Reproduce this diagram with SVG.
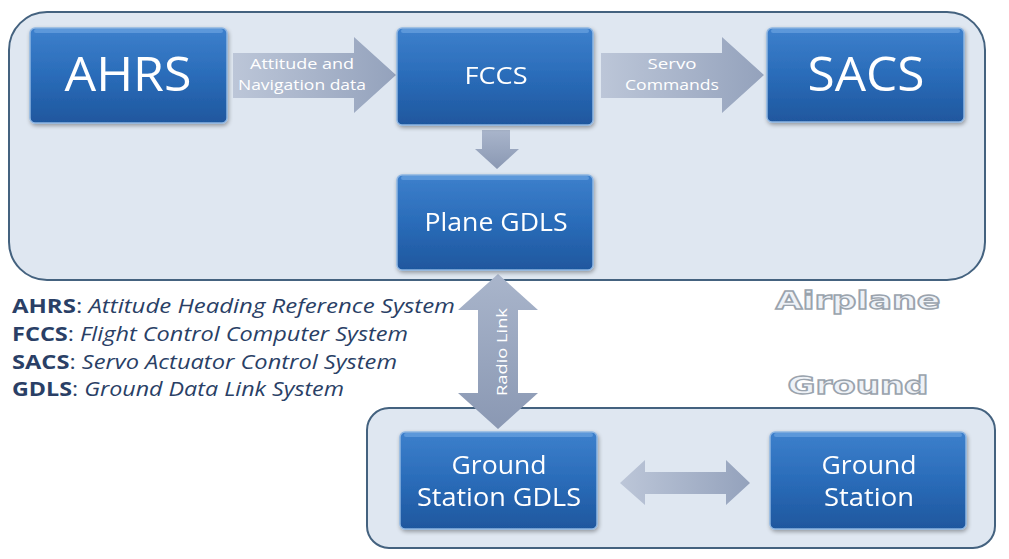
<svg xmlns="http://www.w3.org/2000/svg" width="1009" height="559" viewBox="0 0 1009 559">
<defs>
<linearGradient id="nodeG" x1="0" y1="0" x2="0" y2="1">
<stop offset="0" stop-color="#3d80cc"/>
<stop offset="0.5" stop-color="#2a6cb9"/>
<stop offset="1" stop-color="#1f579e"/>
</linearGradient>
<linearGradient id="arrH" x1="0" y1="0" x2="1" y2="0">
<stop offset="0" stop-color="#bcc6d8"/>
<stop offset="1" stop-color="#94a2bc"/>
</linearGradient>
<linearGradient id="arrV" x1="0" y1="0" x2="0" y2="1">
<stop offset="0" stop-color="#a9b5cb"/>
<stop offset="1" stop-color="#8a98b3"/>
</linearGradient>
<filter id="sh" x="-10%" y="-10%" width="120%" height="130%">
<feGaussianBlur in="SourceAlpha" stdDeviation="2"/>
<feOffset dx="1" dy="2"/>
<feComponentTransfer><feFuncA type="linear" slope="0.35"/></feComponentTransfer>
<feMerge><feMergeNode/><feMergeNode in="SourceGraphic"/></feMerge>
</filter>
</defs>
<style>
.cont{fill:#dfe7f1;stroke:#44627f;stroke-width:2}
.node{fill:url(#nodeG);stroke:#8fb6e2;stroke-width:1.5}
.hl{fill:#6aa2e0;opacity:0.7}
.nt{font-family:"Open Sans","Liberation Sans",sans-serif;fill:#ffffff;text-anchor:middle}
.at{font-family:"Open Sans","Liberation Sans",sans-serif;fill:#ffffff;text-anchor:middle;font-size:15px}
.lg{font-family:"Open Sans","Liberation Sans",sans-serif;font-size:20px;fill:#2a3f66}
.lgb{font-weight:bold}
.lgi{font-style:italic}
.big{font-family:"DejaVu Sans","Liberation Sans",sans-serif;font-weight:bold;font-size:25px;fill:#eef2f7;stroke:#9aa3ad;stroke-width:1.4;text-anchor:middle}
</style>

<g id="airplane">
<rect class="cont" x="9" y="12" width="976" height="268" rx="38"/>
</g>
<g id="ground">
<rect class="cont" x="367" y="408" width="628" height="140" rx="22"/>
</g>

<g id="connectors">
<path d="M233,53 H354 V37 L396,75 L354,113 V98 H233 Z" fill="url(#arrH)"/>
<text class="at" x="302" y="69" textLength="104" lengthAdjust="spacingAndGlyphs">Attitude and</text>
<text class="at" x="302" y="90" textLength="128" lengthAdjust="spacingAndGlyphs">Navigation data</text>
<path d="M601,53 H722 V37 L764,75 L722,113 V98 H601 Z" fill="url(#arrH)"/>
<text class="at" x="672" y="69" textLength="49" lengthAdjust="spacingAndGlyphs">Servo</text>
<text class="at" x="672" y="90" textLength="94" lengthAdjust="spacingAndGlyphs">Commands</text>
<path d="M482,130 H510 V149 H519 L497,169 L475,149 H482 Z" fill="url(#arrV)"/>
<path d="M498,274 L538,310 H518 V393 H538 L498,429 L458,393 H478 V310 H458 Z" fill="url(#arrV)"/>
<text class="at" transform="translate(502,352) rotate(-90)" x="0" y="5" textLength="88" lengthAdjust="spacingAndGlyphs">Radio Link</text>
<path d="M620,483 L645,460 V472 H726 V460 L750,483 L726,505 V494 H645 V505 Z" fill="url(#arrH)"/>
</g>

<g id="ahrs" filter="url(#sh)">
<rect class="node" x="30" y="28" width="197" height="95" rx="5"/>
<rect class="hl" x="34" y="29" width="189" height="4" rx="2"/>
<text class="nt" x="128" y="91" font-size="48" textLength="127" lengthAdjust="spacingAndGlyphs">AHRS</text>
</g>
<g id="fccs" filter="url(#sh)">
<rect class="node" x="397" y="28" width="196" height="97" rx="5"/>
<rect class="hl" x="401" y="29" width="188" height="4" rx="2"/>
<text class="nt" x="496" y="84" font-size="24" textLength="63" lengthAdjust="spacingAndGlyphs">FCCS</text>
</g>
<g id="sacs" filter="url(#sh)">
<rect class="node" x="767" y="28" width="197" height="94" rx="5"/>
<rect class="hl" x="771" y="29" width="189" height="4" rx="2"/>
<text class="nt" x="866" y="91" font-size="48" textLength="117" lengthAdjust="spacingAndGlyphs">SACS</text>
</g>
<g id="plane-gdls" filter="url(#sh)">
<rect class="node" x="397" y="175" width="196" height="95" rx="5"/>
<rect class="hl" x="401" y="176" width="188" height="4" rx="2"/>
<text class="nt" x="496" y="231" font-size="25" textLength="143" lengthAdjust="spacingAndGlyphs">Plane GDLS</text>
</g>
<g id="ground-station-gdls" filter="url(#sh)">
<rect class="node" x="400" y="432" width="197" height="97" rx="5"/>
<rect class="hl" x="404" y="433" width="189" height="4" rx="2"/>
<text class="nt" x="499" y="474" font-size="25" textLength="95" lengthAdjust="spacingAndGlyphs">Ground</text>
<text class="nt" x="499" y="506" font-size="25" textLength="164" lengthAdjust="spacingAndGlyphs">Station GDLS</text>
</g>
<g id="ground-station" filter="url(#sh)">
<rect class="node" x="770" y="432" width="196" height="97" rx="5"/>
<rect class="hl" x="774" y="433" width="188" height="4" rx="2"/>
<text class="nt" x="869" y="474" font-size="25" textLength="95" lengthAdjust="spacingAndGlyphs">Ground</text>
<text class="nt" x="869" y="506" font-size="25" textLength="90" lengthAdjust="spacingAndGlyphs">Station</text>
</g>

<g id="legend">
<text class="lg" x="12" y="313" textLength="443" lengthAdjust="spacingAndGlyphs"><tspan class="lgb">AHRS</tspan>: <tspan class="lgi">Attitude Heading Reference System</tspan></text>
<text class="lg" x="12" y="341" textLength="396" lengthAdjust="spacingAndGlyphs"><tspan class="lgb">FCCS</tspan>: <tspan class="lgi">Flight Control Computer System</tspan></text>
<text class="lg" x="12" y="369" textLength="385" lengthAdjust="spacingAndGlyphs"><tspan class="lgb">SACS</tspan>: <tspan class="lgi">Servo Actuator Control System</tspan></text>
<text class="lg" x="12" y="396" textLength="332" lengthAdjust="spacingAndGlyphs"><tspan class="lgb">GDLS</tspan>: <tspan class="lgi">Ground Data Link System</tspan></text>
</g>
<text class="big" x="858" y="309" textLength="165" lengthAdjust="spacingAndGlyphs">Airplane</text>
<text class="big" x="858" y="394" textLength="141" lengthAdjust="spacingAndGlyphs">Ground</text>
</svg>
